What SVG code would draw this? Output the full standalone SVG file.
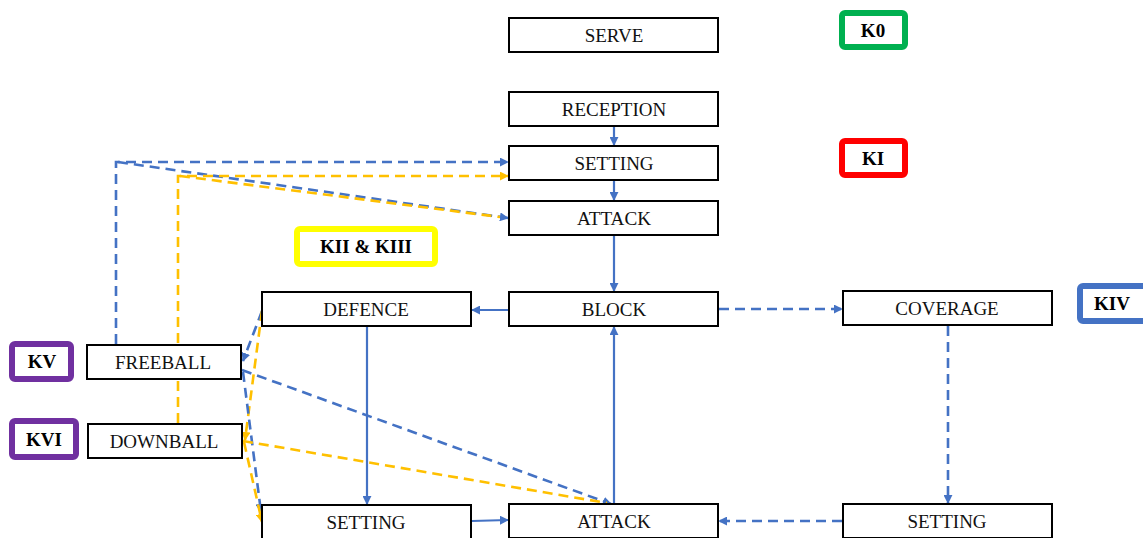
<svg xmlns="http://www.w3.org/2000/svg" width="1143" height="538" viewBox="0 0 1143 538">
  <style>
    .box { fill: #ffffff; stroke: #000000; stroke-width: 2; }
    .lbl { font-family: 'Liberation Serif', 'DejaVu Serif', 'Times New Roman', serif; font-size: 19px; fill: #111111; text-anchor: middle; }
    .tag { font-family: 'Liberation Serif', 'DejaVu Serif', 'Times New Roman', serif; font-size: 19px; font-weight: bold; fill: #000000; text-anchor: middle; }
    .badge { fill: #ffffff; stroke-width: 6; }
    .solid { fill: none; stroke: #4472C4; stroke-width: 2.2; }
    .dblue { fill: none; stroke: #4472C4; stroke-width: 2.6; stroke-dasharray: 10 6; }
    .dyel { fill: none; stroke: #FFC000; stroke-width: 2.6; stroke-dasharray: 10 6; }
  </style>
  <defs>
    <marker id="ab" viewBox="0 0 10 10" refX="9" refY="5" markerWidth="9" markerHeight="9" markerUnits="userSpaceOnUse" orient="auto">
      <path d="M0,0 L10,5 L0,10 z" fill="#4472C4"/>
    </marker>
    <marker id="ay" viewBox="0 0 10 10" refX="9" refY="5" markerWidth="9" markerHeight="9" markerUnits="userSpaceOnUse" orient="auto">
      <path d="M0,0 L10,5 L0,10 z" fill="#FFC000"/>
    </marker>
  </defs>

  <!-- connectors -->
  <g id="connectors">
    <!-- main solid flow -->
    <line class="solid" x1="614" y1="127" x2="614" y2="145" marker-end="url(#ab)"/>
    <line class="solid" x1="614" y1="181" x2="614" y2="200" marker-end="url(#ab)"/>
    <line class="solid" x1="614" y1="236" x2="614" y2="291" marker-end="url(#ab)"/>
    <line class="solid" x1="508" y1="310" x2="472" y2="310" marker-end="url(#ab)"/>
    <line class="solid" x1="367" y1="327" x2="367" y2="504" marker-end="url(#ab)"/>
    <line class="solid" x1="472" y1="521" x2="508" y2="520" marker-end="url(#ab)"/>
    <line class="solid" x1="614" y1="503" x2="614" y2="327" marker-end="url(#ab)"/>
    <!-- coverage branch -->
    <line class="dblue" x1="719" y1="309" x2="842" y2="309" marker-end="url(#ab)"/>
    <line class="dblue" x1="948" y1="326" x2="948" y2="503" marker-end="url(#ab)"/>
    <line class="dblue" x1="842" y1="521" x2="719" y2="521" marker-end="url(#ab)"/>
    <!-- freeball returns -->
    <polyline class="dblue" points="116,344 116,162 508,162" marker-end="url(#ab)"/>
    <line class="dblue" x1="118" y1="162" x2="508" y2="218" marker-end="url(#ab)"/>
    <!-- downball returns -->
    <polyline class="dyel" points="178,423 178,176 508,176" marker-end="url(#ay)"/>
    <line class="dyel" x1="180" y1="176" x2="500" y2="217"/>
    <!-- defence / freeball / downball links -->
    <line class="dblue" x1="262" y1="311" x2="243" y2="361" marker-end="url(#ab)"/>
    <line class="dyel" x1="262" y1="311" x2="245" y2="440" marker-end="url(#ay)"/>
    <line class="dblue" x1="243" y1="372" x2="261" y2="512" marker-end="url(#ab)"/>
    <line class="dyel" x1="244" y1="442" x2="262" y2="522" marker-end="url(#ay)"/>
    <line class="dblue" x1="242" y1="370" x2="611" y2="504" marker-end="url(#ab)"/>
    <line class="dyel" x1="243" y1="441" x2="607" y2="503"/>
  </g>

  <!-- process nodes -->
  <g id="serve"><rect class="box" x="509" y="18" width="209" height="34"/><text class="lbl" x="614" y="42">SERVE</text></g>
  <g id="reception"><rect class="box" x="509" y="92" width="209" height="34"/><text class="lbl" x="614" y="116">RECEPTION</text></g>
  <g id="setting-1"><rect class="box" x="509" y="146" width="209" height="34"/><text class="lbl" x="614" y="170">SETTING</text></g>
  <g id="attack-1"><rect class="box" x="509" y="201" width="209" height="34"/><text class="lbl" x="614" y="225" textLength="74" lengthAdjust="spacingAndGlyphs">ATTACK</text></g>
  <g id="block"><rect class="box" x="509" y="292" width="209" height="34"/><text class="lbl" x="614" y="316">BLOCK</text></g>
  <g id="defence"><rect class="box" x="262" y="292" width="209" height="34"/><text class="lbl" x="366" y="316">DEFENCE</text></g>
  <g id="coverage"><rect class="box" x="843" y="291" width="209" height="34"/><text class="lbl" x="947" y="315">COVERAGE</text></g>
  <g id="freeball"><rect class="box" x="87" y="345" width="154" height="34"/><text class="lbl" x="163" y="369">FREEBALL</text></g>
  <g id="downball"><rect class="box" x="88" y="424" width="154" height="34"/><text class="lbl" x="164" y="448">DOWNBALL</text></g>
  <g id="setting-2"><rect class="box" x="262" y="505" width="209" height="34"/><text class="lbl" x="366" y="529">SETTING</text></g>
  <g id="attack-2"><rect class="box" x="509" y="504" width="209" height="34"/><text class="lbl" x="614" y="528">ATTACK</text></g>
  <g id="setting-3"><rect class="box" x="843" y="504" width="209" height="34"/><text class="lbl" x="947" y="528">SETTING</text></g>

  <!-- complex tags -->
  <g id="k0"><rect class="badge" x="842" y="13" width="63" height="34" rx="3" stroke="#00B050"/><text class="tag" x="873" y="37">K0</text></g>
  <g id="ki"><rect class="badge" x="842" y="141" width="63" height="34" rx="3" stroke="#FF0000"/><text class="tag" x="873" y="165">KI</text></g>
  <g id="kii-kiii"><rect class="badge" x="297" y="229" width="138" height="35" rx="3" stroke="#FFFF00"/><text class="tag" x="366" y="253">KII &amp; KIII</text></g>
  <g id="kiv"><rect class="badge" x="1080" y="286" width="66" height="35" rx="3" stroke="#4472C4"/><text class="tag" x="1112" y="310">KIV</text></g>
  <g id="kv"><rect class="badge" x="12" y="344" width="59" height="35" rx="3" stroke="#7030A0"/><text class="tag" x="42" y="368">KV</text></g>
  <g id="kvi"><rect class="badge" x="12" y="421" width="64" height="36" rx="3" stroke="#7030A0"/><text class="tag" x="44" y="446">KVI</text></g>
</svg>
